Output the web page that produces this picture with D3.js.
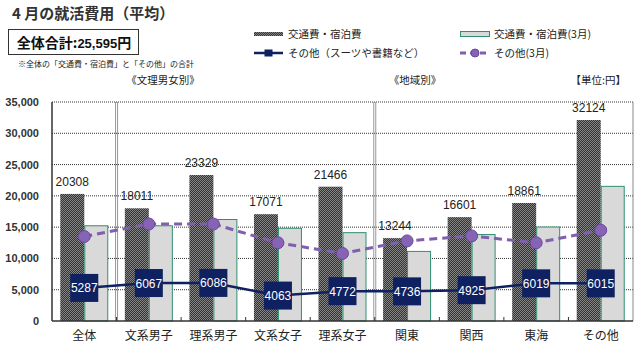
<!DOCTYPE html>
<html><head><meta charset="utf-8">
<script src="https://cdn.jsdelivr.net/npm/d3@7"></script>
<style>
body{margin:0;background:#fff;}
svg{display:block;}
text{font-family:"Liberation Sans",Arial,sans-serif;}
.jp{font-family:"Noto Sans CJK JP","Noto Sans",sans-serif;}
</style></head>
<body>
<script>
const categories = ["全体","文系男子","理系男子","文系女子","理系女子","関東","関西","東海","その他"];
const travel = [20308,18011,23329,17071,21466,13244,16601,18861,32124];
const travelMar = [15300,15300,16300,14900,14200,11200,13900,15100,21600];
const other = [5287,6067,6086,4063,4772,4736,4925,6019,6015];
const otherMar = [13500,15500,15500,12500,10800,12800,13600,12500,14500];
const yTicks = [0,5000,10000,15000,20000,25000,30000,35000];

const W=640,H=347;
const svg=d3.select("body").append("svg").attr("width",W).attr("height",H);
const defs=svg.append("defs");
const pat=defs.append("pattern").attr("id","chk").attr("patternUnits","userSpaceOnUse").attr("width",2).attr("height",2);
pat.append("rect").attr("width",2).attr("height",2).attr("fill","#333");
pat.append("rect").attr("width",1).attr("height",1).attr("fill","#858585");
pat.append("rect").attr("x",1).attr("y",1).attr("width",1).attr("height",1).attr("fill","#858585");

const L=52,R=633,T=102,B=321;
const x=d3.scaleBand().domain(categories).range([L,R]).paddingInner(0).paddingOuter(0);
const y=d3.scaleLinear().domain([0,35000]).range([B,T]);
const bw=24;

// gridlines
svg.append("g").selectAll("line").data(yTicks.filter(d=>d>0)).join("line")
 .attr("x1",L).attr("x2",R).attr("y1",d=>y(d)).attr("y2",d=>y(d))
 .attr("stroke","#333").attr("stroke-width",1).attr("stroke-dasharray","1,1");

// separators (double lines)
[1,5].forEach(i=>{
  const sx=x(categories[i]);
  [-1,1].forEach(o=>svg.append("line").attr("x1",sx+o).attr("x2",sx+o).attr("y1",T).attr("y2",B)
    .attr("stroke","#999").attr("stroke-width",1));
});

// bars
svg.append("g").selectAll("rect").data(categories).join("rect")
 .attr("x",d=>x(d)+x.bandwidth()/2-bw).attr("width",bw)
 .attr("y",(d,i)=>y(travel[i])).attr("height",(d,i)=>B-y(travel[i]))
 .attr("fill","url(#chk)");
svg.append("g").selectAll("rect").data(categories).join("rect")
 .attr("x",d=>x(d)+x.bandwidth()/2+0.5).attr("width",bw-1)
 .attr("y",(d,i)=>y(travelMar[i])+0.5).attr("height",(d,i)=>B-y(travelMar[i])-0.5)
 .attr("fill","#d9d9d9").attr("stroke","#2f9070").attr("stroke-width",1);

// bar labels
svg.append("g").selectAll("text").data(categories).join("text")
 .attr("x",d=>x(d)+x.bandwidth()/2-bw/2).attr("y",(d,i)=>y(travel[i])-8)
 .attr("text-anchor","middle").attr("font-size",12).attr("fill","#222")
 .text((d,i)=>travel[i]);

// axes frame
svg.append("line").attr("x1",R).attr("x2",R).attr("y1",T).attr("y2",B).attr("stroke","#888");
svg.append("line").attr("x1",L).attr("x2",L).attr("y1",T).attr("y2",B).attr("stroke","#333").attr("stroke-width",1.5);
svg.append("line").attr("x1",L).attr("x2",R).attr("y1",B).attr("y2",B).attr("stroke","#333").attr("stroke-width",1.5);
// x ticks
svg.append("g").selectAll("line").data(categories.slice(1)).join("line")
 .attr("x1",d=>x(d)).attr("x2",d=>x(d)).attr("y1",B).attr("y2",B-4).attr("stroke","#333");

// y axis labels
const yAxis=d3.axisLeft(y).tickValues(yTicks).tickSize(0).tickPadding(13).tickFormat(d3.format(","));
const yg=svg.append("g").attr("transform",`translate(${L},0)`).call(yAxis);
yg.select(".domain").remove();
yg.selectAll("text").attr("font-size",11).attr("font-weight","bold").attr("fill","#333")
 .attr("font-family","'Liberation Sans Narrow','Liberation Sans',Arial,sans-serif");

// x labels
svg.append("g").selectAll("text").data(categories).join("text").attr("class","jp")
 .attr("x",d=>x(d)+x.bandwidth()/2).attr("y",340).attr("text-anchor","middle")
 .attr("font-size",12).attr("fill","#222").text(d=>d);

// purple dashed line
const cx=d=>x(d)+x.bandwidth()/2;
svg.append("path").datum(categories)
 .attr("d",d3.line().x(d=>cx(d)).y((d,i)=>y(otherMar[i])))
 .attr("fill","none").attr("stroke","#7f5fae").attr("stroke-width",3).attr("stroke-dasharray","8,5");
svg.append("g").selectAll("circle").data(categories).join("circle")
 .attr("cx",d=>cx(d)).attr("cy",(d,i)=>y(otherMar[i])).attr("r",6)
 .attr("fill","#8763b5").attr("stroke","#6a4a9a");

// navy line
svg.append("path").datum(categories)
 .attr("d",d3.line().x(d=>cx(d)).y((d,i)=>y(other[i])))
 .attr("fill","none").attr("stroke","#0f2160").attr("stroke-width",2.5);
const bx=28;
svg.append("g").selectAll("rect").data(categories).join("rect")
 .attr("x",d=>cx(d)-bx/2).attr("y",(d,i)=>y(other[i])-bx/2).attr("width",bx).attr("height",bx)
 .attr("fill","#0f2160");
svg.append("g").selectAll("text").data(categories).join("text")
 .attr("x",d=>cx(d)).attr("y",(d,i)=>y(other[i])+4.5).attr("text-anchor","middle")
 .attr("font-size",12).attr("fill","#fff").text((d,i)=>other[i]);

// title
svg.append("text").attr("class","jp").attr("x",12).attr("y",19).attr("font-size",15).attr("font-weight","bold")
 .attr("fill","#333").text("4 月の就活費用（平均）");
svg.append("rect").attr("x",8.5).attr("y",29.5).attr("width",130).attr("height",25).attr("fill","#fff").attr("stroke","#333");
const tt=svg.append("text").attr("x",74).attr("y",48).attr("text-anchor","middle").attr("font-size",14).attr("font-weight","bold").attr("fill","#111");
tt.append("tspan").attr("class","jp").text("全体合計:");
tt.append("tspan").attr("font-size",13).text("25,595");
tt.append("tspan").attr("class","jp").text("円");
svg.append("text").attr("class","jp").attr("x",18).attr("y",67).attr("font-size",8).attr("fill","#222")
 .text("※全体の「交通費・宿泊費」と「その他」の合計");
svg.append("text").attr("class","jp").attr("x",163).attr("y",84).attr("text-anchor","middle").attr("font-size",10.5).attr("fill","#222").text("《文理男女別》");
svg.append("text").attr("class","jp").attr("x",415).attr("y",84).attr("text-anchor","middle").attr("font-size",10.5).attr("fill","#222").text("《地域別》");
svg.append("text").attr("class","jp").attr("x",626).attr("y",84).attr("text-anchor","end").attr("font-size",10.5).attr("fill","#222").text("【単位:円】");

// legend
const lg=svg.append("g");
lg.append("rect").attr("x",254).attr("y",32).attr("width",29).attr("height",4).attr("fill","url(#chk)");
lg.append("text").attr("class","jp").attr("x",288).attr("y",38).attr("font-size",10.5).attr("fill","#222").text("交通費・宿泊費");
lg.append("line").attr("x1",254).attr("x2",283).attr("y1",53).attr("y2",53).attr("stroke","#0f2160").attr("stroke-width",2.5);
lg.append("rect").attr("x",264.5).attr("y",49.5).attr("width",8).attr("height",7).attr("fill","#0f2160");
lg.append("text").attr("class","jp").attr("x",288).attr("y",57).attr("font-size",10.5).attr("fill","#222").text("その他（スーツや書籍など）");
lg.append("rect").attr("x",460.5).attr("y",31.5).attr("width",29).attr("height",5).attr("fill","#d9d9d9").attr("stroke","#2f9070");
lg.append("text").attr("class","jp").attr("x",494).attr("y",38).attr("font-size",10.5).attr("fill","#222").text("交通費・宿泊費(3月)");
lg.append("line").attr("x1",460).attr("x2",490).attr("y1",53).attr("y2",53).attr("stroke","#7f5fae").attr("stroke-width",3).attr("stroke-dasharray","6,4");
lg.append("circle").attr("cx",475).attr("cy",53).attr("r",4).attr("fill","#8763b5").attr("stroke","#6a4a9a");
lg.append("text").attr("class","jp").attr("x",494).attr("y",57).attr("font-size",10.5).attr("fill","#222").text("その他(3月)");
</script>
</body></html>
